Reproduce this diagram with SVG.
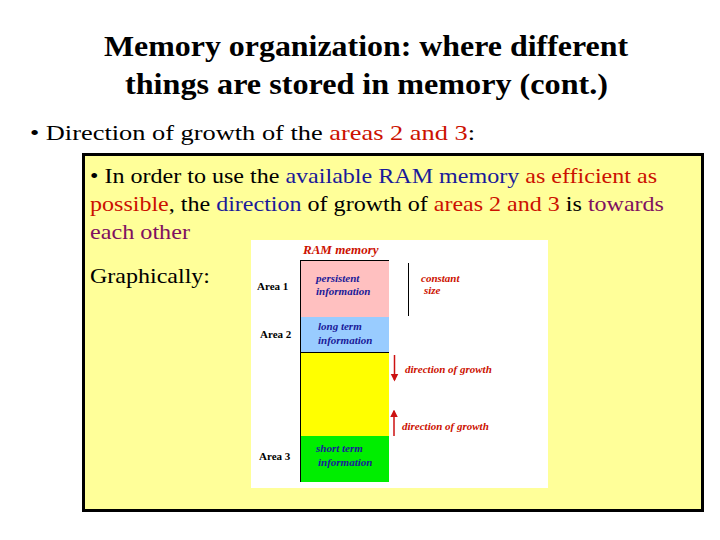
<svg xmlns="http://www.w3.org/2000/svg" width="720" height="540" viewBox="0 0 720 540">
<defs>
<style>
.b{fill:#1a1a99}.r{fill:#cc1100}.p{fill:#801060}
</style>
<marker id="ah" viewBox="0 0 10 10" refX="8" refY="5" markerWidth="5" markerHeight="6" orient="auto"><path d="M0,0L10,5L0,10z" fill="#cc1111"/></marker>
</defs>
<rect width="720" height="540" fill="#fff"/>
<g id="title" font-family="'Liberation Serif', 'Times New Roman', 'DejaVu Serif', serif" font-size="30" font-weight="bold" fill="#000">
<text x="104" y="56" textLength="524" lengthAdjust="spacingAndGlyphs">Memory organization: where different</text>
<text x="125" y="94" textLength="483" lengthAdjust="spacingAndGlyphs">things are stored in memory (cont.)</text>
</g>
<g id="bullet1" font-family="'Liberation Serif', 'Times New Roman', 'DejaVu Serif', serif" font-size="21" fill="#000">
<text x="30" y="140" textLength="445" lengthAdjust="spacingAndGlyphs">•  Direction of growth of the <tspan class="r">areas 2 and 3</tspan>:</text>
</g>
<g id="box" font-family="'Liberation Serif', 'Times New Roman', 'DejaVu Serif', serif" font-size="21" fill="#000">
<rect x="83.500" y="154.500" width="619" height="356" fill="#ffff99" stroke="#000" stroke-width="3"/>
<text x="90" y="183" textLength="567" lengthAdjust="spacingAndGlyphs">• In order to use the <tspan class="b">available RAM memory</tspan> <tspan class="r">as efficient as</tspan></text>
<text x="90" y="211" textLength="574" lengthAdjust="spacingAndGlyphs"><tspan class="r">possible</tspan>, the <tspan class="b">direction</tspan> of growth of <tspan class="r">areas 2 and 3</tspan> is <tspan class="p">towards</tspan></text>
<text class="p" x="90" y="239" textLength="100" lengthAdjust="spacingAndGlyphs">each other</text>
<text x="90" y="283" textLength="120" lengthAdjust="spacingAndGlyphs">Graphically:</text>
</g>
<g id="image" font-family="'Liberation Serif', 'Times New Roman', 'DejaVu Serif', serif" font-size="11" font-weight="bold">
<rect x="251" y="240" width="297" height="248" fill="#fff"/>
<text class="r" x="303" y="254" font-size="13" font-style="italic">RAM memory</text>
<rect x="300" y="260" width="89" height="57" fill="#ffc0c0"/>
<rect x="300" y="317" width="89" height="35" fill="#99ccff"/>
<rect x="300" y="352" width="89" height="84" fill="#ffff00"/>
<rect x="300" y="436" width="89" height="46" fill="#00ee00"/>
<path d="M300.500,260V482M300,352.500H389M300,260.500H389" stroke="#000" fill="none"/>
<text x="257" y="290">Area 1</text>
<text x="260" y="338">Area 2</text>
<text x="259" y="460">Area 3</text>
<g font-style="italic" class="b">
<text x="316" y="282">persistent</text>
<text x="316" y="295">information</text>
<text x="318" y="330">long term</text>
<text x="318" y="344">information</text>
<text x="316" y="452">short term</text>
<text x="318" y="466">information</text>
</g>
<line x1="408.500" y1="263" x2="408.500" y2="316" stroke="#000"/>
<text class="r" font-style="italic" x="421" y="282">constant</text>
<text class="r" font-style="italic" x="424" y="294">size</text>
</g>
<g id="connectors" font-family="'Liberation Serif', 'Times New Roman', 'DejaVu Serif', serif" font-size="11" font-weight="bold" font-style="italic">
<line x1="394.500" y1="355" x2="394.500" y2="380" stroke="#cc1111" stroke-width="1.5" marker-end="url(#ah)"/>
<line x1="394" y1="436" x2="394" y2="411" stroke="#cc1111" stroke-width="1.5" marker-end="url(#ah)"/>
<text class="r" x="405" y="373">direction of growth</text>
<text class="r" x="402" y="430">direction of growth</text>
</g>
</svg>
